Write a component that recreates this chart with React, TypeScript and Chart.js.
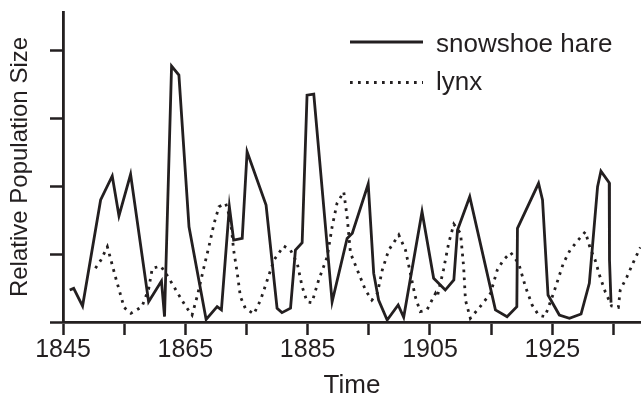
import React, { useEffect, useRef } from "react";
import { Chart, registerables } from "chart.js";

Chart.register(...registerables);

// ---- data ----
const hareYears = [
  1846.1, 1846.75, 1848.2, 1851.15, 1853.05, 1854.15, 1856.05, 1859.0, 1861.1, 1861.6,
  1862.75, 1863.95, 1865.6, 1868.4, 1870.2, 1870.9, 1872.2, 1872.9, 1874.3, 1875.1,
  1878.2, 1880.0, 1880.8, 1882.2, 1883.0, 1884.1, 1884.9, 1886.0, 1889.0, 1891.45,
  1892.3, 1894.9, 1895.8, 1896.6, 1898.0, 1899.8, 1900.7, 1903.7, 1905.6, 1907.5,
  1908.9, 1909.5, 1911.5, 1915.7, 1917.6, 1919.2, 1919.3, 1922.75, 1923.4, 1924.3,
  1926.15, 1927.8, 1929.7, 1931.05, 1932.4, 1932.95, 1934.3, 1934.35, 1934.6,
];
const hareValues = [
  18.8, 19.8, 9.4, 71.8, 85.9, 62.5, 86.9, 11.9, 24.1, 3.1,
  150.6, 145.3, 56.0, 1.5, 9.0, 7.1, 67.8, 48.2, 49.2, 100.2,
  68.8, 8.1, 5.5, 8.1, 42.3, 46.6, 133.5, 134.1, 11.9, 49.2,
  52.2, 81.2, 28.6, 12.9, 1.2, 10.0, 2.8, 64.9, 25.7, 18.8,
  24.7, 54.1, 73.7, 7.1, 3.1, 9.0, 55.1, 81.6, 71.8, 15.9,
  4.1, 2.2, 4.7, 22.8, 79.6, 88.8, 81.9, 36.5, 11.4,
];

const lynxYears = [
  1850.3, 1851.2, 1852.25, 1853.6, 1855.0, 1856.1, 1857.9, 1859.0, 1859.6, 1861.0,
  1862.3, 1863.7, 1865.1, 1866.1, 1867.0, 1868.0, 1868.85, 1869.7, 1870.5, 1871.6,
  1872.4, 1872.9, 1873.5, 1874.0, 1874.8, 1876.2, 1877.3, 1878.4, 1879.5, 1881.1,
  1882.2, 1883.3, 1884.1, 1884.9, 1885.7, 1886.8, 1888.2, 1889.0, 1889.8, 1890.9,
  1891.45, 1892.0, 1893.35, 1894.45, 1895.5, 1896.4, 1897.2, 1898.25, 1899.9, 1901.0,
  1901.8, 1902.6, 1903.4, 1904.5, 1905.9, 1906.2, 1907.2, 1908.05, 1908.9, 1910.0,
  1910.5, 1910.8, 1911.6, 1913.2, 1914.9, 1916.0, 1917.0, 1918.2, 1919.5, 1920.6,
  1921.7, 1922.75, 1923.8, 1925.2, 1926.0, 1926.8, 1927.9, 1929.0, 1930.4, 1931.2,
  1932.0, 1932.8, 1933.65, 1934.7, 1935.8, 1936.1, 1937.2, 1938.3, 1939.4,
];
const lynxValues = [
  31.6, 36.5, 44.3, 26.2, 8.5, 5.1, 9.0, 19.4, 31.6, 32.9,
  25.9, 17.3, 9.0, 4.1, 15.9, 31.6, 44.3, 58.0, 67.8, 69.8,
  60.0, 42.3, 28.6, 14.9, 8.1, 4.7, 12.9, 24.7, 36.5, 44.7,
  42.3, 34.5, 20.8, 11.9, 11.4, 24.7, 38.4, 56.0, 69.8, 76.6,
  61.9, 40.6, 28.6, 18.8, 12.9, 16.9, 30.6, 42.3, 51.2, 42.3,
  28.6, 14.9, 6.1, 7.1, 16.9, 14.9, 30.6, 46.3, 57.6, 52.1,
  32.5, 12.9, 2.2, 9.0, 16.9, 30.6, 36.5, 40.8, 34.5, 20.8,
  10.0, 4.1, 3.1, 16.9, 25.7, 34.5, 42.3, 47.2, 53.1, 43.3,
  36.5, 26.6, 17.8, 9.4, 8.6, 18.8, 26.6, 35.5, 43.9,
];

const xTickYears = [1845, 1855, 1865, 1875, 1885, 1895, 1905, 1915, 1925, 1935];
const xLabelYears = [1845, 1865, 1885, 1905, 1925];
const yTickValues = [0, 40, 80, 120, 160];

const seriesNames = ["snowshoe hare", "lynx"];

const X_MIN = 1845;
const X_MAX = 1939.5;
const Y_MAX = 182.4;

const INK = "#231f20";
const FONT = '"Liberation Sans", Arial, Helvetica, sans-serif';
const LINE_W = 2.8;
const DOT_DASH = [2.7, 5.3];

const legendPlugin = {
  id: "customLegend",
  afterDraw(chart: any) {
    const ctx = chart.ctx;
    ctx.save();
    ctx.strokeStyle = INK;
    ctx.fillStyle = INK;
    ctx.lineWidth = LINE_W;
    ctx.lineCap = "butt";
    ctx.setLineDash([]);
    ctx.beginPath();
    ctx.moveTo(350, 42);
    ctx.lineTo(423, 42);
    ctx.stroke();
    ctx.setLineDash(DOT_DASH);
    ctx.beginPath();
    ctx.moveTo(350, 82.5);
    ctx.lineTo(423, 82.5);
    ctx.stroke();
    ctx.setLineDash([]);
    ctx.font = `26px ${FONT}`;
    ctx.textBaseline = "alphabetic";
    ctx.textAlign = "left";
    ctx.fillText(seriesNames[0], 436, 52);
    ctx.fillText(seriesNames[1], 436, 90);
    ctx.restore();
  },
};

export default function App() {
  const ref = useRef<HTMLCanvasElement | null>(null);

  useEffect(() => {
    document.body.style.margin = "0";
    const canvas = ref.current;
    if (!canvas) return;
    const chart = new Chart(canvas, {
      type: "line",
      data: {
        datasets: [
          {
            label: seriesNames[0],
            data: hareYears.map((x, i) => ({ x, y: hareValues[i] })),
            borderColor: INK,
            borderWidth: LINE_W,
            pointRadius: 0,
            tension: 0,
            fill: false,
            borderJoinStyle: "miter",
          },
          {
            label: seriesNames[1],
            data: lynxYears.map((x, i) => ({ x, y: lynxValues[i] })),
            borderColor: INK,
            borderWidth: LINE_W,
            borderDash: DOT_DASH,
            pointRadius: 0,
            tension: 0,
            fill: false,
          },
        ],
      },
      options: {
        responsive: false,
        animation: false,
        devicePixelRatio: 1,
        layout: { padding: { top: 12, right: 0, left: 0, bottom: 0 } },
        plugins: {
          legend: { display: false },
          tooltip: { enabled: false },
        },
        scales: {
          x: {
            type: "linear",
            min: X_MIN,
            max: X_MAX,
            afterBuildTicks: (axis: any) => {
              axis.ticks = xTickYears.map((v) => ({ value: v }));
            },
            afterFit: (s: any) => {
              s.height = 77;
            },
            border: { display: true, color: INK, width: LINE_W },
            grid: {
              drawOnChartArea: false,
              drawTicks: true,
              tickLength: 13,
              tickWidth: 2.5,
              tickColor: INK,
            },
            ticks: {
              autoSkip: false,
              maxRotation: 0,
              padding: 0,
              color: INK,
              font: { family: FONT, size: 25 },
              callback: (v: any) => (xLabelYears.includes(Number(v)) ? String(v) : ""),
            },
            title: {
              display: true,
              text: "Time",
              color: INK,
              font: { family: FONT, size: 26, lineHeight: 1 },
              padding: { top: 0, bottom: 0 },
            },
          },
          y: {
            type: "linear",
            min: 0,
            max: Y_MAX,
            afterBuildTicks: (axis: any) => {
              axis.ticks = yTickValues.map((v) => ({ value: v }));
            },
            afterFit: (s: any) => {
              s.width = 63;
            },
            border: { display: true, color: INK, width: LINE_W },
            grid: {
              drawOnChartArea: false,
              drawTicks: true,
              tickLength: 13,
              tickWidth: 2.5,
              tickColor: INK,
            },
            ticks: {
              padding: 0,
              callback: () => "",
            },
            title: {
              display: true,
              text: "Relative Population Size",
              color: INK,
              font: { family: FONT, size: 24, lineHeight: 1 },
              padding: { top: 8, bottom: 0 },
            },
          },
        },
      },
      plugins: [legendPlugin],
    } as any);
    return () => chart.destroy();
  }, []);

  return (
    <div style={{ width: 641, height: 399, position: "relative" }}>
      <canvas ref={ref} width={641} height={399} style={{ display: "block" }} />
    </div>
  );
}
